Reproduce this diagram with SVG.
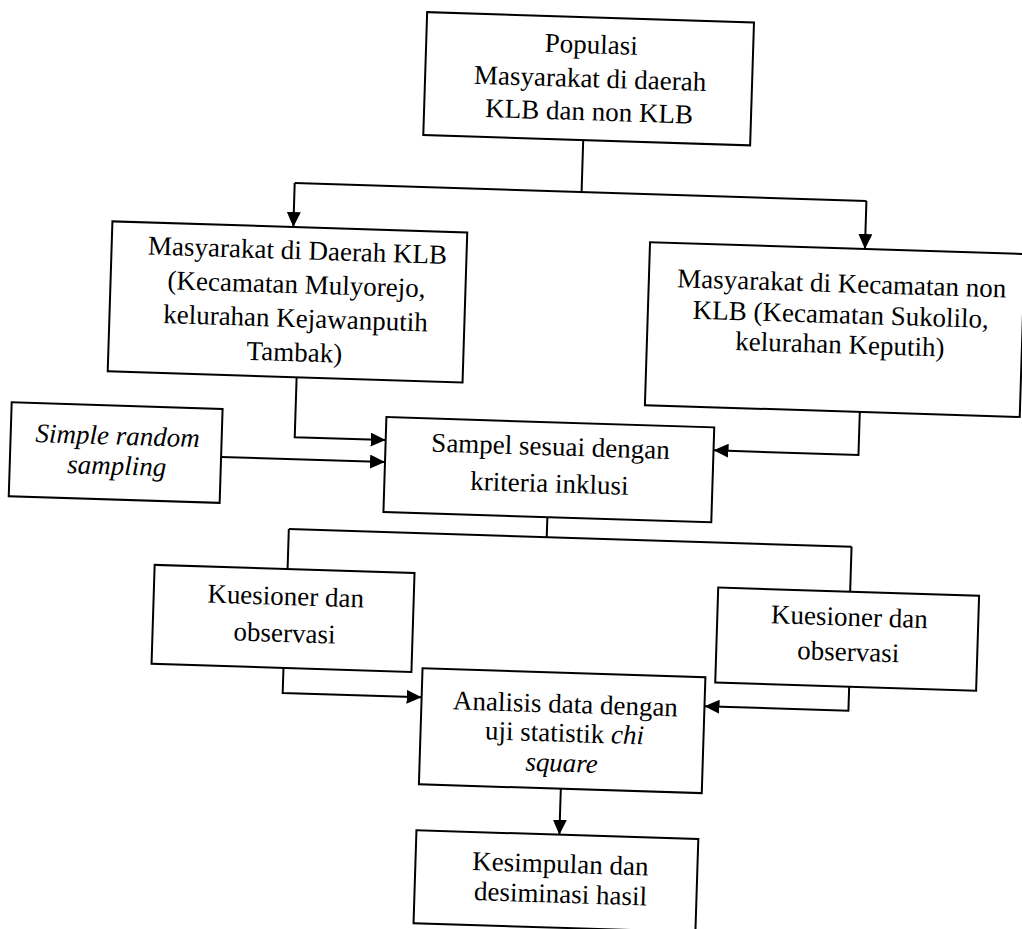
<svg xmlns="http://www.w3.org/2000/svg" width="1022" height="929" viewBox="0 0 1022 929">
<style>
.box{fill:#fff;stroke:#000;stroke-width:2}
.t{font-family:"Liberation Serif","Times New Roman",serif;font-size:27px;fill:#000;text-anchor:middle}
.i{font-style:italic}
.c{fill:none;stroke:#000;stroke-width:2}
</style>
<defs>
<marker id="ah" markerUnits="userSpaceOnUse" markerWidth="16" markerHeight="14" refX="15" refY="7" orient="auto">
<path d="M0,0 L15,7 L0,14 Z" fill="#000"/>
</marker>
</defs>
<rect width="1022" height="929" fill="#fff"/>
<g transform="rotate(1.8 511 464)">
<g id="connectors">
<path class="c" d="M573,138 V190"/>
<path class="c" d="M286,190 H858"/>
<path class="c" d="M286,190 V234" marker-end="url(#ah)"/>
<path class="c" d="M858,190 V238" marker-end="url(#ah)"/>
<path class="c" d="M294,384 V444 H385" marker-end="url(#ah)"/>
<path class="c" d="M221,466 H385" marker-end="url(#ah)"/>
<path class="c" d="M858,401 V444 H713" marker-end="url(#ah)"/>
<path class="c" d="M549,516 V536"/>
<path class="c" d="M291,536 H854"/>
<path class="c" d="M291,536 V576"/>
<path class="c" d="M854,536 V581"/>
<path class="c" d="M290,675 V700 H429" marker-end="url(#ah)"/>
<path class="c" d="M856,676 V700 H712" marker-end="url(#ah)"/>
<path class="c" d="M571,787 V833" marker-end="url(#ah)"/>
</g>
<g id="populasi">
<rect class="box" x="413" y="15" width="327" height="123"/>
<text class="t" x="578" y="51">Populasi</text>
<text class="t" x="578" y="85">Masyarakat di daerah</text>
<text class="t" x="578" y="118">KLB dan non KLB</text>
</g>
<g id="klb">
<rect class="box" x="105" y="234" width="355" height="150"/>
<text class="t" x="291" y="266">Masyarakat di Daerah KLB</text>
<text class="t" x="291" y="300">(Kecamatan Mulyorejo,</text>
<text class="t" x="291" y="334">kelurahan Kejawanputih</text>
<text class="t" x="291" y="368">Tambak)</text>
</g>
<g id="nonklb">
<rect class="box" x="643" y="238" width="375" height="163"/>
<text class="t" x="836" y="282">Masyarakat di Kecamatan non</text>
<text class="t" x="836" y="313">KLB (Kecamatan Sukolilo,</text>
<text class="t" x="836" y="343">kelurahan Keputih)</text>
</g>
<g id="srs">
<rect class="box" x="10" y="418" width="211" height="94"/>
<text class="t i" x="117" y="457">Simple random</text>
<text class="t i" x="117" y="487">sampling</text>
</g>
<g id="sampel">
<rect class="box" x="385" y="421" width="328" height="95"/>
<text class="t" x="550" y="454">Sampel sesuai dengan</text>
<text class="t" x="550" y="491">kriteria inklusi</text>
</g>
<g id="kuesioner1">
<rect class="box" x="158" y="576" width="260" height="99"/>
<text class="t" x="290" y="612">Kuesioner dan</text>
<text class="t" x="290" y="649">observasi</text>
</g>
<g id="kuesioner2">
<rect class="box" x="722" y="581" width="261" height="95"/>
<text class="t" x="854" y="615">Kuesioner dan</text>
<text class="t" x="854" y="650">observasi</text>
</g>
<g id="analisis">
<rect class="box" x="429" y="671" width="283" height="116"/>
<text class="t" x="573" y="711">Analisis data dengan</text>
<text class="t" x="573" y="740">uji statistik <tspan class="i">chi</tspan></text>
<text class="t i" x="571" y="770">square</text>
</g>
<g id="kesimpulan">
<rect class="box" x="428" y="833" width="282" height="93"/>
<text class="t" x="573" y="871">Kesimpulan dan</text>
<text class="t" x="574" y="901">desiminasi hasil</text>
</g>
</g>
</svg>
